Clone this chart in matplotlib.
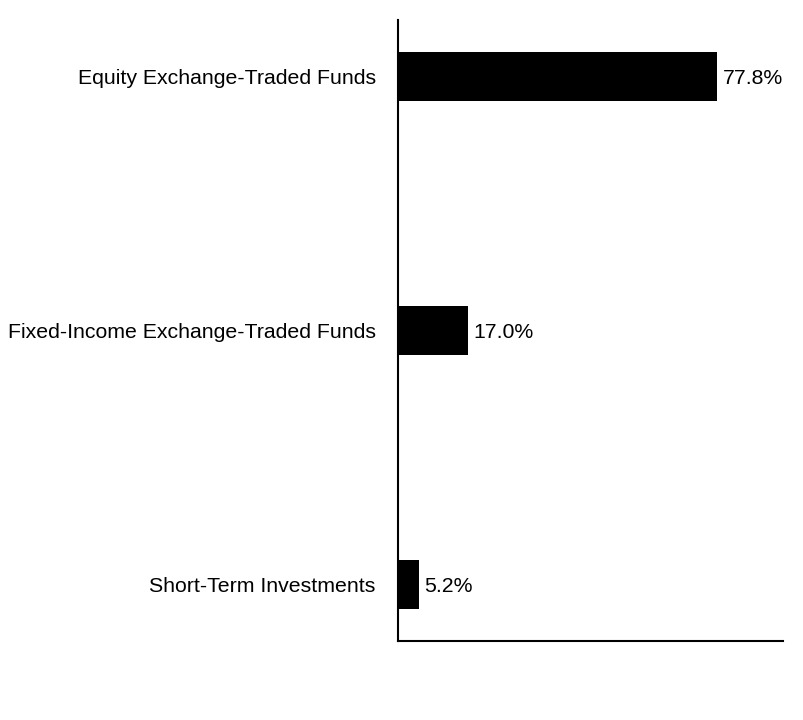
import matplotlib
matplotlib.use("Agg")
import matplotlib.pyplot as plt

plt.rcParams['font.family'] = ['Liberation Sans', 'DejaVu Sans']

categories = ['Equity Exchange-Traded Funds',
              'Fixed-Income Exchange-Traded Funds',
              'Short-Term Investments']
values = [77.8, 17.0, 5.2]
labels = ['77.8%', '17.0%', '5.2%']

fig = plt.figure(figsize=(8.04, 7.2), dpi=100)
ax = fig.add_axes([0.495, 0.1097, 0.479, 0.8625])

pos = list(range(len(categories)))
ax.barh(pos, values, height=0.193, color='black')
for p, v, lab in zip(pos, values, labels):
    ax.text(v + 1.3, p, lab, va='center_baseline', ha='left', fontsize=15.3)

ax.set_yticks(pos)
ax.set_yticklabels(categories, fontsize=15.3, va='center_baseline')
ax.tick_params(axis='y', length=0, pad=16)
ax.set_xticks([])
ax.set_xlim(0, 93.9)
ax.set_ylim(2.224, -0.224)
for s in ['top', 'right']:
    ax.spines[s].set_visible(False)
for s in ['left', 'bottom']:
    ax.spines[s].set_linewidth(1.5)

fig.savefig('out.png', dpi=100)
